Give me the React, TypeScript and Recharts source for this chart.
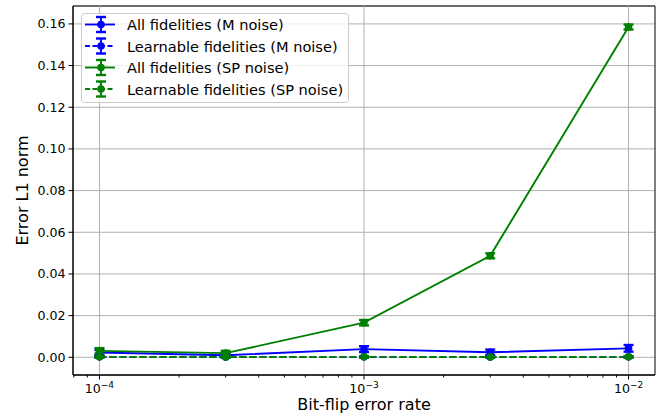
import React from "react";
import {
  CartesianGrid,
  ComposedChart,
  ErrorBar,
  Line,
  ReferenceArea,
  ReferenceLine,
  XAxis,
  YAxis,
} from "recharts";

const rates = [1e-4, 3e-4, 1e-3, 3e-3, 1e-2];

const allM = [0.0023, 0.001, 0.0039, 0.0024, 0.0043];
const allMErr = [0.0013, 0.001, 0.0014, 0.0013, 0.0016];
const learnM = [0.0002, 0.0001, 0.0002, 0.0001, 0.0002];
const learnMErr = [0.0003, 0.0002, 0.0003, 0.0002, 0.0003];

const allSP = [0.0031, 0.002, 0.0166, 0.0487, 0.1585];
const allSPErr = [0.0013, 0.0011, 0.0013, 0.0012, 0.0012];
const learnSP = [0.0002, 0.0001, 0.0002, 0.0001, 0.0002];
const learnSPErr = [0.0003, 0.0002, 0.0003, 0.0002, 0.0003];

const xMajorTicks = [1e-4, 1e-3, 1e-2];
const xMinorTicks = [
  8e-5, 9e-5, 2e-4, 3e-4, 4e-4, 5e-4, 6e-4, 7e-4, 8e-4, 9e-4,
  2e-3, 3e-3, 4e-3, 5e-3, 6e-3, 7e-3, 8e-3, 9e-3,
];
const yTicks = [0, 0.02, 0.04, 0.06, 0.08, 0.1, 0.12, 0.14, 0.16];

const xDomain = [Math.pow(10, -4.1), Math.pow(10, -1.9)];
const yDomain = [-0.0085, 0.1686];

const series = [
  { key: "allM", err: "allMErr", name: "All fidelities (M noise)", color: "#0000ff", dashed: false },
  { key: "learnM", err: "learnMErr", name: "Learnable fidelities (M noise)", color: "#0000ff", dashed: true },
  { key: "allSP", err: "allSPErr", name: "All fidelities (SP noise)", color: "#008000", dashed: false },
  { key: "learnSP", err: "learnSPErr", name: "Learnable fidelities (SP noise)", color: "#008000", dashed: true },
];

const data = rates.map((rate, i) => ({
  rate,
  allM: allM[i],
  allMErr: allMErr[i],
  learnM: learnM[i],
  learnMErr: learnMErr[i],
  allSP: allSP[i],
  allSPErr: allSPErr[i],
  learnSP: learnSP[i],
  learnSPErr: learnSPErr[i],
}));

const FONT = "DejaVu Sans, sans-serif";
const DASH = "7 3";

const allXTicks = [...xMajorTicks, ...xMinorTicks].sort((a, b) => a - b);

function XTick(props: any) {
  const { x, y, payload } = props;
  const v = payload.value;
  const major = xMajorTicks.some((t) => Math.abs(t - v) / t < 1e-6);
  const exp = Math.round(Math.log10(v));
  return (
    <g>
      <line x1={x} x2={x} y1={y} y2={y + (major ? 4.5 : 2.5)} stroke="#000" strokeWidth={1} />
      {major && (
        <text x={x} y={y + 18} textAnchor="middle" fontSize={12.6} fontFamily={FONT} fill="#000">
          <tspan>10</tspan>
          <tspan dy={-5.5} fontSize={9}>{"\u2212" + Math.abs(exp)}</tspan>
        </text>
      )}
    </g>
  );
}

function makeDot(color: string) {
  return (props: any) => {
    const { cx, cy, index } = props;
    return <circle key={index} cx={cx} cy={cy} r={3.8} fill={color} stroke="none" />;
  };
}

function LegendBox() {
  const rowY = (i: number) => 24.5 + i * 21.5;
  return (
    <svg
      width={667}
      height={417}
      style={{ position: "absolute", left: 0, top: 0, pointerEvents: "none" }}
    >
      <rect x={81.5} y={13.5} width={267} height={89} rx={3} fill="rgba(255,255,255,0.8)" stroke="#cccccc" />
      {series.map((s, i) => {
        const y = rowY(i);
        return (
          <g key={s.key}>
            <line x1={85} x2={115} y1={y} y2={y} stroke={s.color} strokeWidth={1.9} strokeDasharray={s.dashed ? "5 2.5" : undefined} />
            <line x1={101} x2={101} y1={y - 7.5} y2={y + 7.5} stroke={s.color} strokeWidth={1.9} />
            <line x1={96} x2={106} y1={y - 7.5} y2={y - 7.5} stroke={s.color} strokeWidth={2.4} />
            <line x1={96} x2={106} y1={y + 7.5} y2={y + 7.5} stroke={s.color} strokeWidth={2.4} />
            <circle cx={101} cy={y} r={3.8} fill={s.color} />
            <text x={127} y={y} dominantBaseline="central" fontSize={14.6} fontFamily={FONT} fill="#000">
              {s.name}
            </text>
          </g>
        );
      })}
    </svg>
  );
}

export default function App() {
  return (
    <div style={{ position: "absolute", left: 0, top: 0, width: 667, height: 417, background: "#fff" }}>
      <ComposedChart
        width={667}
        height={417}
        data={data}
        margin={{ top: 6, right: 12, bottom: 0, left: 0 }}
      >
        <CartesianGrid vertical={false} stroke="#b0b0b0" strokeWidth={1} />
        {xMajorTicks.map((t) => (
          <ReferenceLine key={t} x={t} stroke="#b0b0b0" strokeWidth={1} />
        ))}
        <XAxis
          dataKey="rate"
          type="number"
          scale="log"
          domain={xDomain}
          allowDataOverflow
          ticks={allXTicks}
          interval={0}
          tick={<XTick />}
          tickLine={false}
          tickSize={0}
          tickMargin={0}
          height={42}
          stroke="#000"
          label={{
            content: (p: any) => {
              const vb = p.viewBox;
              return (
                <text x={vb.x + vb.width / 2} y={410} textAnchor="middle" fontSize={16} fontFamily={FONT} fill="#000">
                  Bit-flip error rate
                </text>
              );
            },
          }}
        />
        <YAxis
          type="number"
          domain={yDomain}
          allowDataOverflow
          ticks={yTicks}
          interval={0}
          width={73}
          tickSize={4.5}
          tickMargin={3}
          stroke="#000"
          tickFormatter={(v: number) => v.toFixed(2)}
          tick={{ fill: "#000", fontSize: 12.6, fontFamily: FONT }}
          label={{
            content: (p: any) => {
              const vb = p.viewBox;
              const cx = 22.5;
              const cy = vb.y + vb.height / 2;
              return (
                <text
                  x={cx}
                  y={cy}
                  textAnchor="middle"
                  dominantBaseline="central"
                  transform={`rotate(-90, ${cx}, ${cy})`}
                  fontSize={16}
                  fontFamily={FONT}
                  fill="#000"
                >
                  Error L1 norm
                </text>
              );
            },
          }}
        />
        {series.map((s) => (
          <Line
            key={s.key}
            dataKey={s.key}
            name={s.name}
            type="linear"
            stroke={s.color}
            strokeWidth={1.9}
            strokeDasharray={s.dashed ? DASH : undefined}
            dot={makeDot(s.color)}
            activeDot={false}
            isAnimationActive={false}
          >
            <ErrorBar dataKey={s.err} width={5} stroke={s.color} strokeWidth={2.4} direction="y" isAnimationActive={false} />
          </Line>
        ))}
        <ReferenceArea
          x1={xDomain[0]}
          x2={xDomain[1]}
          y1={yDomain[0]}
          y2={yDomain[1]}
          fill="none"
          fillOpacity={0}
          stroke="#000"
          strokeWidth={1}
          ifOverflow="visible"
        />
      </ComposedChart>
      <LegendBox />
    </div>
  );
}
